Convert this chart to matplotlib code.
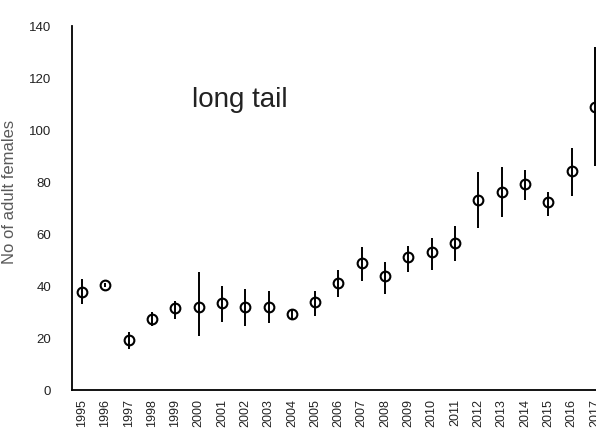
import matplotlib.pyplot as plt

# population counts
years = ['1995', '1996', '1997', '1998', '1999', '2000', '2001', '2002', '2003', '2004', '2005',
         '2006', '2007', '2008', '2009', '2010', '2011', '2012', '2013', '2014', '2015', '2016', '2017']
mean_n = [37.8, 40.4, 19.3, 27.2, 31.4, 31.8, 33.3, 32.0, 32.0, 29.2, 33.8,
          41.0, 48.7, 44.0, 51.0, 52.9, 56.5, 73.2, 76.0, 79.2, 72.2, 84.1, 108.7]
low_n = [33.0, 39.5, 15.8, 24.5, 27.3, 20.9, 26.3, 24.5, 25.8, 27.5, 28.6,
         35.8, 41.8, 36.9, 45.3, 46.0, 49.5, 62.2, 66.4, 73.2, 67.0, 74.7, 86.3]
high_n = [42.7, 41.3, 22.4, 30.0, 34.3, 45.4, 40.1, 38.8, 38.0, 31.0, 38.2,
          46.0, 54.9, 49.3, 55.3, 58.5, 63.0, 84.0, 85.6, 84.7, 76.3, 93.0, 131.9]

x = list(range(len(years)))
yerr = [[m - l for m, l in zip(mean_n, low_n)], [h - m for m, h in zip(mean_n, high_n)]]

fig = plt.figure(figsize=(5.96, 4.35), dpi=100)
# axes run off the right edge like the original (last year is clipped)
ax = fig.add_axes([72/596, 44/435, 534.5/596, 364/435])

ax.errorbar(x, mean_n, yerr=yerr, fmt='o', color='black', ecolor='black', elinewidth=1.4,
            capsize=0, markersize=7, markerfacecolor='none', markeredgewidth=1.5)

ax.set_xlim(-0.43, len(years) - 0.5)
ax.set_ylim(0, 140)
ax.set_yticks(range(0, 141, 20))
ax.set_xticks(x)
ax.set_xticklabels(years, rotation=90, fontsize=9, family='Liberation Sans', color='#222222')
for lab in ax.get_yticklabels():
    lab.set_fontsize(9.5)
    lab.set_family('Liberation Sans')
    lab.set_color('#222222')
ax.tick_params(axis='both', length=0)
ax.tick_params(axis='y', pad=15)
ax.tick_params(axis='x', pad=6)

ax.spines['top'].set_visible(False)
ax.spines['right'].set_visible(False)
ax.spines['left'].set_linewidth(1.3)
ax.spines['bottom'].set_linewidth(1.3)

ax.set_ylabel('No of adult females', fontsize=12, color='#5a5a5a', family='Liberation Sans')
ax.yaxis.set_label_coords(-0.102, 0.547)

ax.text(120/534.5, (391-100)/364, 'long tail', transform=ax.transAxes,
        fontsize=20, family='Liberation Sans', color='#222222', va='center', ha='left')

plt.savefig('out.png')
